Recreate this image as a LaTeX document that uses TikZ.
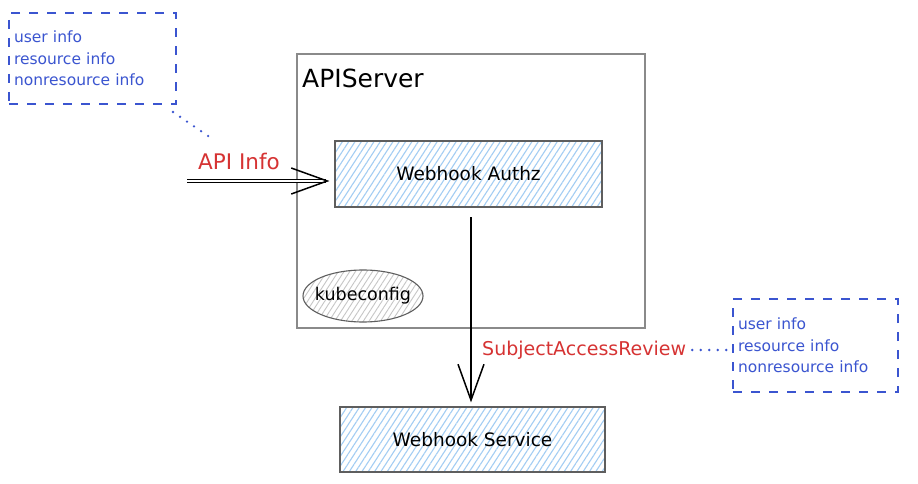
\documentclass[tikz,border=0pt]{standalone}
\usepackage{fontspec}
\setmainfont{DejaVu Sans}
\usetikzlibrary{arrows.meta,patterns.meta,shapes.geometric}
\definecolor{inkblue}{HTML}{3B55D0}
\definecolor{inkred}{HTML}{D63333}
\definecolor{hatchblue}{HTML}{A3CDF3}
\definecolor{hatchgray}{HTML}{C6C6C6}
\definecolor{boxgray}{HTML}{5E5E5E}
\definecolor{framegray}{HTML}{8A8A8A}
\tikzset{
  hatchbox/.style={draw=boxgray, line width=1.2pt,
    pattern={Lines[angle=57,distance=5.3pt,line width=1.1pt]}, pattern color=hatchblue,
    font=\fontsize{18.5}{22}\selectfont, text=black, inner sep=0pt},
  frame/.style={draw=framegray, line width=1.3pt, inner sep=0pt},
  cloud/.style={ellipse, draw=boxgray, line width=1.1pt,
    pattern={Lines[angle=57,distance=4.8pt,line width=0.9pt]}, pattern color=hatchgray,
    font=\fontsize{17.5}{21}\selectfont, inner xsep=-9pt, inner ysep=-1pt},
  infobox/.style={draw=inkblue, line width=1.4pt, dash pattern=on 9pt off 9pt,
    text=inkblue, font=\fontsize{15.5}{21.5}\selectfont, align=left,
    inner xsep=5pt, inner ysep=0pt},
  redlabel/.style={text=inkred, font=\fontsize{19}{23}\selectfont, inner sep=0pt},
  titlelabel/.style={font=\fontsize{25}{28}\selectfont, inner sep=0pt, text=black},
  dotconn/.style={draw=inkblue, line width=2.6pt, line cap=round, dash pattern=on 0pt off 8.5pt},
  barb/.style={draw=black, line width=1.3pt,
    -{Straight Barb[length=36pt,width=26pt,line width=1.5pt]}},
}
\begin{document}
\begin{tikzpicture}[x=1pt,y=-1pt]
\useasboundingbox[fill=white] (0,0) rectangle (918,484);

% APIServer frame
\node[frame, minimum width=348pt, minimum height=274pt] (api) at (471,191) {};
\node[titlelabel, anchor=west] (apititle) at (302,78) {APIServer};

% inner boxes
\node[hatchbox, minimum width=267pt, minimum height=66pt] (authz) at (468.5,174) {Webhook Authz};
\node[cloud, minimum width=120pt, minimum height=52pt] (kube) at (363,296) {kubeconfig};
\node[hatchbox, minimum width=265pt, minimum height=65pt] (service) at (472.5,439.5) {Webhook Service};

% info boxes
\node[infobox, minimum height=91pt, text width=157pt] (info1) at (92.5,58.5)
  {user info\\resource info\\nonresource info};
\node[infobox, minimum height=93pt, text width=155pt] (info2) at (815.5,345.5)
  {user info\\resource info\\nonresource info};

% labels
\node[redlabel, font=\fontsize{21.5}{25}\selectfont] (apilabel) at (239,161) {API Info};
\node[redlabel, anchor=west] (sarlabel) at (482,350) {SubjectAccessReview};

% connectors
\coordinate (apiIn) at (187,181);
\draw[barb, double=white, double distance=1.6pt, line width=0.9pt, shorten >=5pt] (apiIn) -- (apiIn -| authz.west);

\coordinate (sarTop) at (471,217);
\draw[barb, shorten >=4pt] (sarTop) -- (sarTop |- service.north);

\coordinate (dotA) at (173,112);
\coordinate (dotB) at (211,138);
\draw[dotconn] (dotA) -- (dotB);
\draw[dotconn, shorten <=6pt, shorten >=5pt] (sarlabel.east) -- (sarlabel.east -| info2.west);
\end{tikzpicture}
\end{document}
